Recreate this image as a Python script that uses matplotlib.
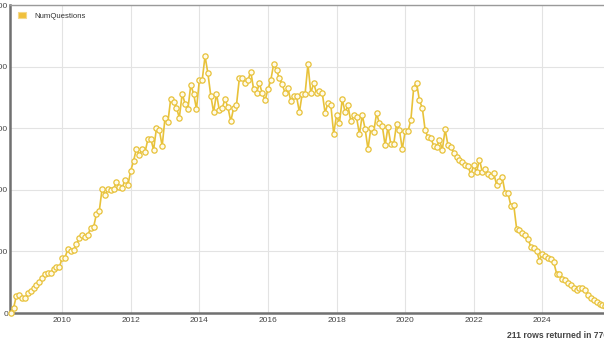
import numpy as np
import matplotlib
matplotlib.use("Agg")
import matplotlib.pyplot as plt
from matplotlib.patches import Rectangle

plt.rcParams["font.family"] = ["Liberation Sans", "DejaVu Sans"]

# monthly question counts, starting 2008-07
num_questions = [
    0, 8, 28, 29, 25, 24, 32, 36, 40, 45, 51, 57, 64, 65, 65, 71, 75, 74,
    89, 90, 104, 100, 102, 112, 121, 127, 123, 127, 138, 139, 161, 166,
    202, 192, 201, 199, 201,
    213, 205, 203, 216, 207, 231, 247, 267, 256, 267, 261, 282, 283, 265,
    300, 297, 271, 317, 310, 348, 343, 333, 317, 356, 340, 331, 370, 356,
    331, 378, 378, 417, 389,
    353, 326, 356, 329, 333, 347, 334, 311, 333, 338, 381, 381, 373, 378,
    392, 363, 357, 373, 357, 345, 363, 378, 404, 394, 381, 371, 357, 365,
    344, 352, 352, 326, 356, 356, 404,
    357, 373, 357, 360, 357, 325, 341, 338, 291, 321, 308, 347, 326, 337,
    311, 321, 318, 290, 321, 299, 266, 300, 294, 324, 308, 304, 272, 302,
    274, 274, 307, 297, 266, 295, 295,
    313, 366, 374, 345, 333, 297, 285, 284, 271, 269, 281, 265, 298, 272,
    269, 260, 254, 249, 245, 241, 238, 225, 240, 229, 249, 229, 233, 225,
    222, 227, 208, 214, 220, 194, 194,
    174, 175, 137, 134, 130, 126, 120, 107, 106, 101, 85, 96, 93, 90, 87,
    82, 64, 63, 56, 54, 48, 45, 41, 37, 41, 40, 38, 29, 25, 21, 18, 14, 13,
    12, 10, 9,
]
start_year = 2008.5
x_ticks = [2010, 2012, 2014, 2016, 2018, 2020, 2022, 2024]
y_ticks = [0, 100, 200, 300, 400, 500]
series_name = "NumQuestions"
footer = "211 rows returned in 776 ms"

years = start_year + np.arange(len(num_questions)) / 12.0

W, H = 604, 340
fig = plt.figure(figsize=(W / 100, H / 100), dpi=100)
fig.patch.set_facecolor("white")

# the original chart is wider than this crop, so the axes run off the right edge
x0, x1 = 2008.48, 2026.2
px_per_year = 34.3
ax_left, ax_top, ax_bottom = 10, 5, 313
ax_w = (x1 - x0) * px_per_year
ax_h = ax_bottom - ax_top
ax = fig.add_axes([ax_left / W, (H - ax_bottom) / H, ax_w / W, ax_h / H])

line_col = "#E8C23A"
ax.plot(years, num_questions, color=line_col, lw=1.2, marker="o", ms=3.8,
        mfc="#FFFBEA", mec=line_col, mew=0.9, zorder=3, clip_on=False)

ax.set_xlim(x0, x1)
ax.set_ylim(0, 500)
ax.set_xticks(x_ticks)
ax.set_yticks(y_ticks)
ax.set_xticklabels([str(t) for t in x_ticks])
ax.set_yticklabels([str(t) for t in y_ticks])
ax.tick_params(length=0, labelsize=6, labelcolor="#444444")
ax.tick_params(axis="x", pad=3)
ax.tick_params(axis="y", pad=1.5)
ax.grid(True, color="#E3E3E3", lw=0.8)
ax.set_axisbelow(True)

for side in ["left", "bottom"]:
    ax.spines[side].set_color("#707070")
    ax.spines[side].set_linewidth(1.8)
ax.spines["top"].set_color("#9a9a9a")
ax.spines["top"].set_linewidth(1.0)
ax.spines["right"].set_visible(False)

# legend
leg_sq = Rectangle(((18 - ax_left) / ax_w, 1 - (18 - ax_top) / ax_h),
                   8 / ax_w, 6 / ax_h, transform=ax.transAxes,
                   facecolor="#F0C03C", edgecolor="#F5D98A", lw=0.8, zorder=4)
ax.add_patch(leg_sq)
fig.text(34 / W, 1 - 16 / H, series_name, fontsize=5.6, color="#333333",
         va="center", ha="left")

fig.text(507 / W, 1 - 335 / H, footer, fontsize=6.2, fontweight="bold",
         color="#444444", va="center", ha="left")

fig.savefig("out.png", dpi=100)
